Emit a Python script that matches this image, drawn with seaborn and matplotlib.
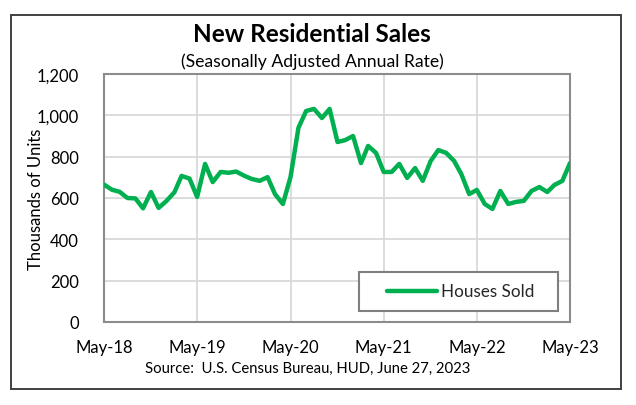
import matplotlib
matplotlib.use("Agg")
import matplotlib.pyplot as plt
from matplotlib.patches import Rectangle
from matplotlib.lines import Line2D
import seaborn as sns
import pandas as pd

# ---- data ----
start_month = "2018-05-01"
houses_sold = [665, 640, 630, 600, 598, 550, 629, 552, 586, 628, 707, 694,
               605, 765, 677, 726, 722, 728, 708, 692, 683, 701, 619, 571,
               702, 940, 1021, 1031, 987, 1031, 871, 880, 900, 769, 852, 818,
               726, 726, 765, 697, 745, 683, 779, 832, 818, 779, 716, 619,
               639, 571, 547, 634, 571, 581, 586, 634, 653, 629, 663, 683, 769]
series_name = "Houses Sold"
x_tick_labels = ["May-18", "May-19", "May-20", "May-21", "May-22", "May-23"]
y_ticks = [0, 200, 400, 600, 800, 1000, 1200]
title = "New Residential Sales"
subtitle = "(Seasonally Adjusted Annual Rate)"
y_label = "Thousands of Units"
source = "Source:  U.S. Census Bureau, HUD, June 27, 2023"

months = pd.date_range(start_month, periods=len(houses_sold), freq="MS")
df = pd.DataFrame({"Month": months, "Value": houses_sold, "Series": series_name})

sns.set_theme(style="white")
plt.rcParams["font.family"] = ["Lato", "DejaVu Sans"]

fig = plt.figure(figsize=(6.36, 4.06), dpi=100)
ax = fig.add_axes([104/636, 1-323/406, 466/636, 248/406])

green = "#00B050"
sns.lineplot(data=df, x="Month", y="Value", color=green, linewidth=3.2,
             ax=ax, legend=False, solid_capstyle="round", solid_joinstyle="round", zorder=3)

ax.set_xlim(months[0], months[-1])
ax.set_ylim(0, 1200)
ax.set_yticks(y_ticks)
ax.set_yticklabels([f"{v:,}" for v in y_ticks])
xt = pd.date_range(start_month, periods=len(x_tick_labels), freq="12MS")
ax.set_xticks(xt)
ax.set_xticklabels(x_tick_labels)
ax.tick_params(axis="both", length=0, labelsize=12, colors="black")
ax.tick_params(axis="y", pad=18)
ax.tick_params(axis="x", pad=12)

ax.grid(True, color="#d9d9d9", linewidth=1.3, zorder=0)
ax.set_axisbelow(True)
for s in ax.spines.values():
    s.set_visible(True)
    s.set_color("#8c8c8c")
    s.set_linewidth(1.5)

ax.set_xlabel("")
ax.set_ylabel(y_label, fontsize=12, color="black")
ax.yaxis.set_label_coords((44-104)/466, 0.5)

# legend box
ax.add_patch(Rectangle((0.547, 0.044), 0.427, 0.157, transform=ax.transAxes,
                       facecolor="white", edgecolor="#7f7f7f", linewidth=1.5, zorder=4))
h = Line2D([0], [0], color=green, linewidth=3.2, solid_capstyle="round")
leg = ax.legend([h], [series_name], loc="center", bbox_to_anchor=(0.766, 0.123),
                frameon=False, fontsize=12.3, handlelength=2.9, handletextpad=0.25,
                borderpad=0)
leg.set_zorder(5)

fig.text(312/636, 1-35/406, title, ha="center", va="center", fontsize=17.5,
         fontweight="bold", color="black")
fig.text(312/636, 1-62/406, subtitle, ha="center", va="center", fontsize=12.7,
         color="black")
fig.text(308/636, 1-369/406, source, ha="center", va="center", fontsize=10.7,
         color="black")

fig.add_artist(Rectangle((11/636, 1-389.5/406), 610/636, 373.5/406,
                         transform=fig.transFigure, fill=False,
                         edgecolor="#404040", linewidth=1.4))

fig.savefig("out.png", dpi=100)
